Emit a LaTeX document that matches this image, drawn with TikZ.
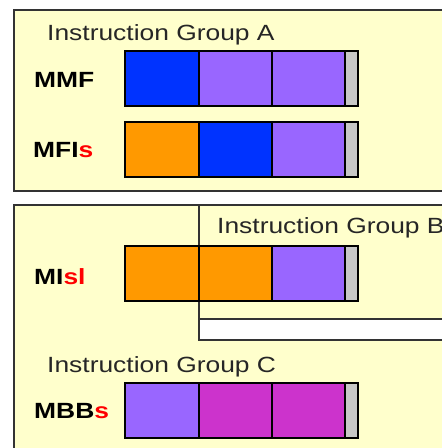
\documentclass[tikz,border=0pt]{standalone}
\usepackage{fontspec}
\setmainfont{Liberation Sans}[FakeStretch=1.2]
\definecolor{slotblue}{HTML}{0033FF}
\definecolor{slotlav}{HTML}{9966FF}
\definecolor{slotorange}{HTML}{FF9900}
\definecolor{slotmag}{HTML}{CC33CC}
\definecolor{slotgray}{HTML}{C8C8C8}
\definecolor{groupbg}{HTML}{FFFFCC}
\definecolor{frame}{HTML}{333333}
\tikzset{
  slot/.style={draw=black, line width=1.3pt},
  grouptitle/.style={anchor=base west, inner sep=0pt, text=black!85, font=\fontsize{22}{24}\selectfont},
  bundlename/.style={anchor=base west, inner sep=0pt, font=\fontsize{22}{24}\selectfont\bfseries},
}
% one bundle: top edge y, then the three slot colours
\newcommand{\bundle}[4]{%
  \fill[#2] (125,#1) rectangle (199,#1+55);
  \fill[#3] (199,#1) rectangle (272,#1+55);
  \fill[#4] (272,#1) rectangle (345,#1+55);
  \fill[slotgray] (345,#1) rectangle (358,#1+55);
  \draw[slot] (125,#1) rectangle (358,#1+55);
  \foreach \xs in {199,272,345} \draw[slot] (\xs,#1) -- (\xs,#1+55);
}
\begin{document}
\begin{tikzpicture}[x=1pt,y=-1pt]
\useasboundingbox (0,0) rectangle (442,448);
% Group A frame
\fill[groupbg] (14,10) rectangle (442,191);
\draw[frame, line width=1.5pt] (442,10) -- (14,10) -- (14,191) -- (442,191);
\node[grouptitle] (grpA) at (47,40) {Instruction Group A};
\node[bundlename] (mmf) at (34,87) {MMF};
\bundle{51}{slotblue}{slotlav}{slotlav}
\node[bundlename] (mfis) at (33,157) {MFI\textcolor{red}{s}};
\bundle{122}{slotorange}{slotblue}{slotlav}
% Groups B and C frame
\fill[groupbg] (14,205) rectangle (442,448);
\draw[frame, line width=1.5pt] (442,205) -- (14,205) -- (14,448);
\fill[white] (199,319) rectangle (442,340);
\draw[frame, line width=1.5pt] (199,205) -- (199,340) -- (442,340);
\draw[frame, line width=1.2pt] (199,319) -- (442,319);
\node[grouptitle] (grpB) at (217,233) {Instruction Group B};
\node[bundlename] (misl) at (34,284) {MI\textcolor{red}{sl}};
\bundle{246}{slotorange}{slotorange}{slotlav}
\node[grouptitle] (grpC) at (47,372) {Instruction Group C};
\node[bundlename] (mbbs) at (34,418) {MBB\textcolor{red}{s}};
\bundle{383}{slotlav}{slotmag}{slotmag}
\end{tikzpicture}
\end{document}
